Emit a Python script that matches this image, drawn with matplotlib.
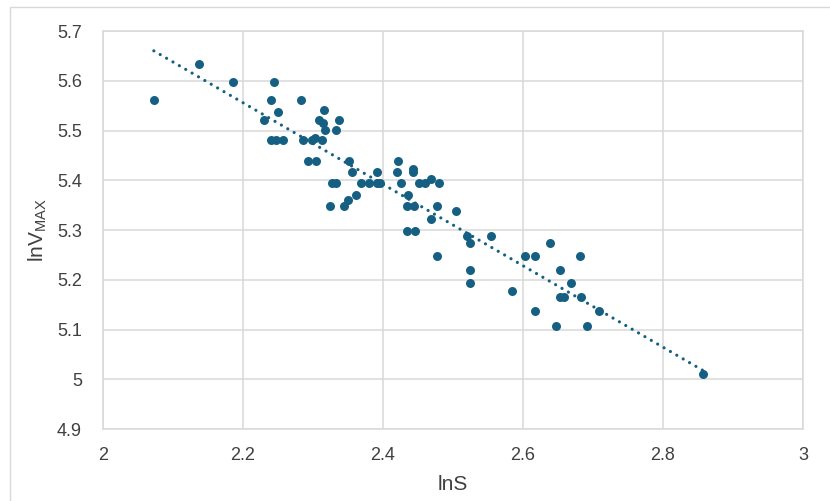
import numpy as np
import matplotlib
matplotlib.use("Agg")
import matplotlib.pyplot as plt
from matplotlib.patches import Rectangle

lnS = [2.073, 2.1375, 2.186, 2.245, 2.241, 2.283, 2.250, 2.230, 2.316, 2.309,
       2.314, 2.3375, 2.3175, 2.333, 2.241, 2.247, 2.258, 2.2865, 2.2994, 2.3032,
       2.3137, 2.293, 2.304, 2.352, 2.356, 2.421, 2.3916, 2.4198, 2.4437, 2.4437,
       2.327, 2.333, 2.3686, 2.3805, 2.3916, 2.3963, 2.426, 2.452, 2.4607, 2.469,
       2.4808, 2.362, 2.3496, 2.324, 2.344, 2.4365, 2.4345, 2.445, 2.4775, 2.469,
       2.505, 2.4345, 2.4464, 2.520, 2.524, 2.555, 2.4775, 2.525, 2.525, 2.584,
       2.639, 2.603, 2.617, 2.681, 2.653, 2.668, 2.653, 2.659, 2.683, 2.618,
       2.708, 2.647, 2.691, 2.857]
lnVmax = [5.561, 5.634, 5.598, 5.598, 5.561, 5.561, 5.537, 5.521, 5.541, 5.521,
          5.516, 5.521, 5.501, 5.501, 5.481, 5.481, 5.481, 5.481, 5.481, 5.485,
          5.481, 5.438, 5.438, 5.438, 5.416, 5.438, 5.416, 5.416, 5.422, 5.416,
          5.394, 5.394, 5.394, 5.394, 5.394, 5.394, 5.394, 5.394, 5.394, 5.402,
          5.394, 5.371, 5.361, 5.348, 5.348, 5.371, 5.348, 5.348, 5.348, 5.323,
          5.338, 5.298, 5.298, 5.288, 5.273, 5.288, 5.247, 5.2205, 5.193, 5.177,
          5.273, 5.247, 5.247, 5.247, 5.2205, 5.1936, 5.165, 5.165, 5.165, 5.1366,
          5.1366, 5.1064, 5.1064, 5.0111]

x_ticks = [2, 2.2, 2.4, 2.6, 2.8, 3]
x_tick_labels = ["2", "2.2", "2.4", "2.6", "2.8", "3"]
y_ticks = [4.9, 5, 5.1, 5.2, 5.3, 5.4, 5.5, 5.6, 5.7]
y_tick_labels = ["4.9", "5", "5.1", "5.2", "5.3", "5.4", "5.5", "5.6", "5.7"]

plt.rcParams['font.family'] = ['Liberation Sans', 'DejaVu Sans']
color = '#156082'
text_color = '#404040'
grid_color = '#d9d9d9'

fig = plt.figure(figsize=(8.3, 5.01), dpi=100)
ax = fig.add_axes([102.7/830, 1-429/501, (803-102.7)/830, (429-31)/501])

# chart border (left/top visible)
fig.patches.append(Rectangle((10/830, -0.1), 1.2, 1.1 - 7/501,
                             transform=fig.transFigure, fill=False,
                             edgecolor=grid_color, linewidth=1.0))

x = np.array(lnS)
y = np.array(lnVmax)
ax.scatter(x, y, s=42, color=color, zorder=3, linewidths=0)

coef = np.polyfit(x, y, 1)
xt = np.array([x.min(), x.max()])
ax.plot(xt, np.polyval(coef, xt), linestyle=(0, (0.01, 2.3)), color=color,
        linewidth=2.3, zorder=2, dash_capstyle='round')

ax.set_xlim(2, 3)
ax.set_ylim(4.9, 5.7)
ax.set_xticks(x_ticks)
ax.set_xticklabels(x_tick_labels)
ax.set_yticks(y_ticks)
ax.set_yticklabels(y_tick_labels)
ax.grid(True, color=grid_color, linewidth=1.1, zorder=0)
ax.set_axisbelow(True)
for sp in ax.spines.values():
    sp.set_color(grid_color)
    sp.set_linewidth(1.1)
ax.tick_params(length=0, labelsize=13, colors=text_color, pad=13)
ax.tick_params(axis='y', pad=15)

ax.set_xlabel("lnS", fontsize=15, color=text_color, labelpad=8)
ax.set_ylabel(r"lnV$_{\mathregular{MAX}}$", fontsize=15, color=text_color, labelpad=6)

fig.savefig("out.png", dpi=100)
